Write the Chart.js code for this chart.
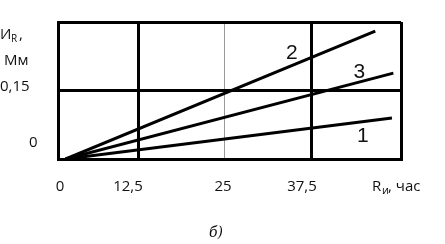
<!DOCTYPE html>
<html>
<head>
<meta charset="utf-8">
<script src="https://cdn.jsdelivr.net/npm/chart.js@4"></script>
<style>
  html, body { margin: 0; padding: 0; background: #fff; }
  #wrap { width: 445px; height: 244px; position: relative; }
</style>
</head>
<body>
<div id="wrap"><canvas id="chart"></canvas></div>
<script>
// axis ticks (the plotted axis starts a little right of 0, as in the picture)
const xMin = 1;
const xMax = 50.3;
const xTicks = [12.5, 25, 37.5, 50.3];
const xTickLabels = ['12,5', '25', '37,5', ''];
const yTicks = [0, 0.15, 0.3];
const yTickLabels = ['0', '0,15', ''];

// curves
const curve1X = [2.1, 49.0];
const curve1Y = [0, 0.09];
const curve2X = [2.1, 46.6];
const curve2Y = [0, 0.28];
const curve3X = [2.1, 49.2];
const curve3Y = [0, 0.188];
const curveNames = ['1', '2', '3'];
const nameX = [44.8, 34.6, 44.3];
const nameY = [0.05, 0.232, 0.19];

const FONT = '"Open Sans", "Noto Sans", sans-serif';

function pts(xs, ys) {
    return xs.map((x, i) => ({ x: x, y: ys[i] }));
}

const textPlugin = {
    id: 'texts',
    afterDraw(chart) {
        const ctx = chart.ctx;
        const xs = chart.scales.x;
        const ys = chart.scales.y;
        const labelOffset = { 12.5: -10, 25: -2, 37.5: -10 };
        ctx.save();
        ctx.fillStyle = '#111';
        ctx.textBaseline = 'middle';

        // x tick labels
        ctx.font = '15px ' + FONT;
        ctx.textAlign = 'center';
        ctx.fillText('0', xs.left + 2, 187);
        xTicks.forEach((v, i) => {
            if (!xTickLabels[i]) return;
            ctx.fillText(xTickLabels[i], xs.getPixelForValue(v) + labelOffset[v], 187);
        });
        // x axis title: R with subscript и
        ctx.textAlign = 'left';
        ctx.fillText('R', 372, 187);
        ctx.font = '11px ' + FONT;
        ctx.fillText('и', 382, 191);
        ctx.font = '15px ' + FONT;
        ctx.fillText(', час', 388, 187);

        // y tick labels and axis title
        ctx.textAlign = 'left';
        ctx.fillText(yTickLabels[1], 0, ys.getPixelForValue(yTicks[1]) - 4);
        ctx.fillText(yTickLabels[0], 29, ys.getPixelForValue(yTicks[0]) - 16);
        ctx.fillText('Мм', 4, 61);
        ctx.fillText('И', 0, 35);
        ctx.font = '10px ' + FONT;
        ctx.fillText('R', 11, 39);
        ctx.font = '15px ' + FONT;
        ctx.fillText(',', 19, 35);

        // curve numbers
        ctx.font = '21px Arial, "Liberation Sans", sans-serif';
        ctx.textAlign = 'center';
        curveNames.forEach((n, i) => {
            ctx.fillText(n, xs.getPixelForValue(nameX[i]), ys.getPixelForValue(nameY[i]));
        });

        // caption
        ctx.font = 'italic 14px "DejaVu Serif", "Liberation Serif", serif';
        ctx.fillText('б)', 216, 233);
        ctx.restore();
    }
};

const lineStyle = {
    borderColor: '#000',
    borderWidth: 3,
    pointRadius: 0,
    fill: false,
    tension: 0
};

new Chart(document.getElementById('chart'), {
    type: 'line',
    data: {
        datasets: [
            Object.assign({ label: curveNames[0], data: pts(curve1X, curve1Y) }, lineStyle),
            Object.assign({ label: curveNames[1], data: pts(curve2X, curve2Y) }, lineStyle),
            Object.assign({ label: curveNames[2], data: pts(curve3X, curve3Y) }, lineStyle)
        ]
    },
    options: {
        responsive: true,
        maintainAspectRatio: false,
        animation: false,
        layout: { padding: { left: 58, right: 44, top: 22, bottom: 85 } },
        plugins: { legend: { display: false }, tooltip: { enabled: false } },
        scales: {
            x: {
                type: 'linear',
                min: xMin,
                max: xMax,
                afterBuildTicks: s => { s.ticks = xTicks.map(v => ({ value: v })); },
                ticks: { display: false },
                border: { display: true, color: '#000', width: 3 },
                grid: {
                    drawTicks: false,
                    color: c => c.tick && c.tick.value === 25 ? '#999' : '#000',
                    lineWidth: c => c.tick && c.tick.value === 25 ? 1 : 3
                }
            },
            y: {
                type: 'linear',
                min: 0,
                max: 0.3,
                afterBuildTicks: s => { s.ticks = yTicks.map(v => ({ value: v })); },
                ticks: { display: false },
                border: { display: true, color: '#000', width: 3 },
                grid: { drawTicks: false, color: '#000', lineWidth: 3 }
            }
        }
    },
    plugins: [textPlugin]
});
</script>
</body>
</html>
